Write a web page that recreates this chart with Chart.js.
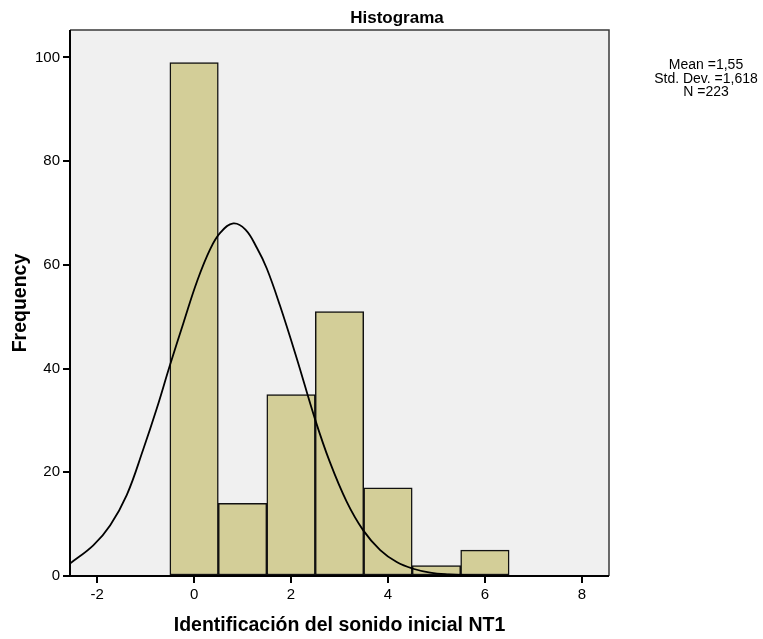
<!DOCTYPE html>
<html>
<head>
<meta charset="utf-8">
<title>Histograma</title>
<script src="https://cdn.jsdelivr.net/npm/chart.js@4.4.1/dist/chart.umd.min.js"></script>
<style>
  html, body { margin: 0; padding: 0; background: #fff; }
  #chart { display: block; }
</style>
</head>
<body>
<canvas id="chart" width="763" height="639"></canvas>
<script>
// histogram bins (centre value) and counts
const binCenters = [0, 1, 2, 3, 4, 5, 6];
const binCounts = [99, 14, 35, 51, 17, 2, 5];

const curveX = [-2.56, -2.08, -1.73, -1.39, -1.05, -0.77, -0.50, -0.22, 0.06, 0.33, 0.55, 0.81, 1.06, 1.30, 1.50, 1.77, 2.12, 2.49, 2.80, 3.15, 3.49, 3.84, 4.18, 4.52, 4.87, 5.25, 5.70, 6.30, 7.00, 8.60];
const curveY = [2.4, 5.9, 9.8, 15.6, 24.4, 32.3, 40.6, 48.8, 56.8, 63.0, 66.3, 68.0, 66.8, 63.2, 59.3, 52.2, 41.9, 30.4, 22.0, 14.3, 8.8, 5.0, 2.7, 1.4, 0.65, 0.3, 0.1, 0.02, 0, 0];

const xTicks = [-2, 0, 2, 4, 6, 8];
const yTicks = [0, 20, 40, 60, 80, 100];

const statLines = ['Mean =1,55', 'Std. Dev. =1,618', 'N =223'];

const FONT = '"Liberation Sans", Arial, Helvetica, sans-serif';

const frame = {
  id: 'frame',
  beforeDatasetsDraw(chart) {
    const { ctx, chartArea: a } = chart;
    ctx.save();
    ctx.fillStyle = '#f0f0f0';
    ctx.fillRect(a.left, a.top, a.right - a.left, a.bottom - a.top);
    ctx.restore();
  },
  afterDatasetsDraw(chart) {
    const { ctx, chartArea: a } = chart;
    ctx.save();
    // top and right edges
    ctx.strokeStyle = '#3a3a3a';
    ctx.lineWidth = 1.5;
    ctx.beginPath();
    ctx.moveTo(a.left, a.top);
    ctx.lineTo(a.right, a.top);
    ctx.lineTo(a.right, a.bottom);
    ctx.stroke();
    // axis lines
    ctx.strokeStyle = '#000';
    ctx.lineWidth = 2;
    ctx.beginPath();
    ctx.moveTo(a.left, a.top);
    ctx.lineTo(a.left, a.bottom);
    ctx.lineTo(a.right, a.bottom);
    ctx.stroke();
    ctx.restore();
  },
  afterDraw(chart) {
    const { ctx } = chart;
    ctx.save();
    ctx.fillStyle = '#000';
    ctx.textAlign = 'center';
    ctx.textBaseline = 'alphabetic';
    ctx.font = 'bold 17px ' + FONT;
    ctx.fillText('Histograma', 397, 23);
    ctx.font = '14px ' + FONT;
    statLines.forEach((t, i) => ctx.fillText(t, 706, 69 + i * 13.5));
    ctx.restore();
  }
};

new Chart(document.getElementById('chart'), {
  type: 'bar',
  data: {
    datasets: [{
      type: 'line',
      data: curveX.map((x, i) => ({ x: x, y: curveY[i] })),
      borderColor: '#000',
      borderWidth: 1.8,
      pointRadius: 0,
      tension: 0.4,
      fill: false,
      clip: 0,
      order: 0
    }, {
      type: 'bar',
      data: binCenters.map((x, i) => ({ x: x, y: binCounts[i] })),
      backgroundColor: '#d3ce98',
      borderColor: '#111',
      borderWidth: 1.5,
      borderSkipped: false,
      barPercentage: 1,
      categoryPercentage: 1,
      order: 1
    }]
  },
  options: {
    responsive: false,
    animation: false,
    layout: { padding: { left: 0, top: 30, right: 154, bottom: 0 } },
    plugins: {
      legend: { display: false },
      tooltip: { enabled: false }
    },
    scales: {
      x: {
        type: 'linear',
        min: -2.56,
        max: 8.56,
        offset: false,
        afterBuildTicks: (s) => { s.ticks = xTicks.map(v => ({ value: v })); },
        afterFit: (s) => { s.height = 63; },
        border: { display: false },
        grid: { offset: false, drawOnChartArea: false, drawTicks: true, tickLength: 7, color: '#000', lineWidth: 2 },
        ticks: { color: '#000', padding: 3, maxRotation: 0, font: { family: FONT, size: 15 } },
        title: {
          display: true,
          text: 'Identificación del sonido inicial NT1',
          color: '#000',
          padding: { top: 0, bottom: 2 },
          font: { family: FONT, size: 19.5, weight: 'bold' }
        }
      },
      y: {
        min: 0,
        max: 105.3,
        afterBuildTicks: (s) => { s.ticks = yTicks.map(v => ({ value: v })); },
        afterFit: (s) => { s.width = 70; },
        border: { display: false },
        grid: { drawOnChartArea: false, drawTicks: true, tickLength: 7, color: '#000', lineWidth: 2 },
        ticks: { color: '#000', padding: 3, font: { family: FONT, size: 15 } },
        title: {
          display: true,
          text: 'Frequency',
          color: '#000',
          padding: { top: 9, bottom: 0 },
          font: { family: FONT, size: 19.5, weight: 'bold' }
        }
      }
    }
  },
  plugins: [frame]
});
</script>
</body>
</html>
